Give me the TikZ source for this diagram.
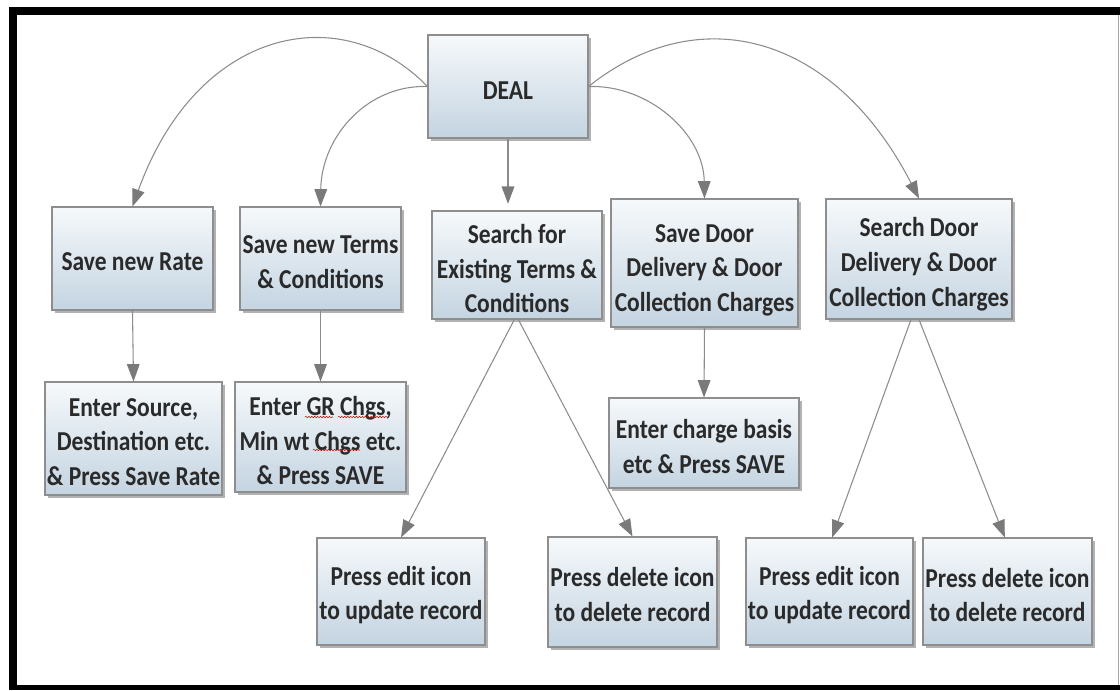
\documentclass[tikz,border=0pt]{standalone}
\usepackage{fontspec}
\setmainfont[FakeStretch=0.86]{Carlito}
\usetikzlibrary{arrows.meta,shadows,decorations.pathmorphing}
\definecolor{boxtop}{HTML}{F6F9FB}
\definecolor{boxbot}{HTML}{C4D4E1}
\definecolor{boxline}{HTML}{8E8E8E}
\definecolor{txt}{HTML}{2A2A2A}
\definecolor{arrline}{HTML}{8C8C8C}
\definecolor{arrhead}{HTML}{7A7A7A}
\tikzset{
  box/.style={draw=boxline, line width=0.8pt, top color=boxtop, bottom color=boxbot,
    drop shadow={shadow xshift=2.2pt, shadow yshift=-2.6pt, fill=black, opacity=0.3},
    inner sep=0pt},
  boxtext/.style={align=center, inner sep=0pt, text=txt, yshift=-2.7pt,
    font=\bfseries\fontsize{20.5}{25.9}\selectfont},
  arr/.style={draw=arrline, line width=0.8pt,
    -{Triangle[length=13pt,width=9.5pt,color=arrhead]}},
  squig/.style={draw=red!85!black, line width=0.4pt, decorate,
    decoration={snake, amplitude=0.5pt, segment length=2.2pt}}
}
\begin{document}
\begin{tikzpicture}[x=0.75pt,y=-0.75pt]
\useasboundingbox (0,0) rectangle (1120,690);
% frame
\fill[black] (9,7) rectangle (1120,15);
\fill[black] (9,7) rectangle (17,690);
\fill[black] (9,685) rectangle (1120,690);
\draw[gray!70, line width=0.9pt] (1118.5,15) -- (1118.5,685);

% nodes
\node[box, minimum width=120pt, minimum height=77.25pt,
  label={[boxtext,yshift=-0.3pt]center:{DEAL}}] (deal) at (508,86.5) {};
\node[box, minimum width=120.75pt, minimum height=77.25pt,
  label={[boxtext]center:{Save new Rate}}] (rate) at (132.5,258.5) {};
\node[box, minimum width=120.75pt, minimum height=77.25pt,
  label={[boxtext]center:{Save new Terms\\\& Conditions}}] (terms) at (320.5,258.5) {};
\node[box, minimum width=127.5pt, minimum height=81pt,
  label={[boxtext]center:{Search for\\Existing Terms \&\\Conditions}}] (search) at (517,265) {};
\node[box, minimum width=140.25pt, minimum height=96pt,
  label={[boxtext,yshift=-2.5pt]center:{Save Door\\Delivery \& Door\\Collection Charges}}] (sdel) at (704.5,263) {};
\node[box, minimum width=139.5pt, minimum height=90pt,
  label={[boxtext,yshift=-1.2pt]center:{Search Door\\Delivery \& Door\\Collection Charges}}] (sdoor) at (919,259) {};
\node[box, minimum width=132.75pt, minimum height=84.75pt,
  label={[boxtext]center:{Enter Source,\\Destination etc.\\\& Press Save Rate}}] (src) at (133.5,438.5) {};
\node[box, minimum width=128.25pt, minimum height=82.5pt,
  label={[boxtext]center:{Enter GR Chgs,\\Min wt Chgs etc.\\\& Press SAVE}}] (gr) at (320.5,437) {};
\node[box, minimum width=142.5pt, minimum height=67.5pt,
  label={[boxtext]center:{Enter charge basis\\etc \& Press SAVE}}] (charge) at (704,443) {};
\node[box, minimum width=126pt, minimum height=80.25pt,
  label={[boxtext]center:{Press edit icon\\to update record}}] (edit1) at (401,591.5) {};
\node[box, minimum width=126.75pt, minimum height=82.5pt,
  label={[boxtext,yshift=0.8pt]center:{Press delete icon\\to delete record}}] (del1) at (632.5,592) {};
\node[box, minimum width=125.25pt, minimum height=80.25pt,
  label={[boxtext]center:{Press edit icon\\to update record}}] (edit2) at (829.5,591.5) {};
\node[box, minimum width=126.75pt, minimum height=80.25pt,
  label={[boxtext]center:{Press delete icon\\to delete record}}] (del2) at (1007.5,591.5) {};

% connectors
\draw[arr] (deal.west) .. controls +(-85,-88) and +(65,-180) .. (rate.north);
\draw[arr] (deal.west) .. controls +(-60,-2) and +(1,-70) .. (terms.north);
\draw[arr, shorten >=5pt] (deal.south) -- (deal.south |- search.north);
\draw[arr] (deal.east) .. controls +(60,-2) and +(-1,-65) .. (sdel.north);
\draw[arr] (deal.east) .. controls +(110,-88) and +(-85,-165) .. (sdoor.north);
\draw[arr] (rate.south) -- (src.north);
\draw[arr] (terms.south) -- (gr.north);
\draw[arr] (sdel.south) -- (charge.north);
\draw[arr] ([xshift=-2pt]search.south) -- (edit1.north);
\draw[arr] ([xshift=1pt]search.south) -- (del1.north);
\draw[arr] ([xshift=-6pt]sdoor.south) -- ([xshift=2pt]edit2.north);
\draw[arr] (sdoor.south) -- ([xshift=-2pt]del2.north);

% spell-check marks
\draw[squig] (305,417) -- (333,417);
\draw[squig] (338,417) -- (387,417);
\draw[squig] (313,450) -- (360,450);
\end{tikzpicture}
\end{document}
